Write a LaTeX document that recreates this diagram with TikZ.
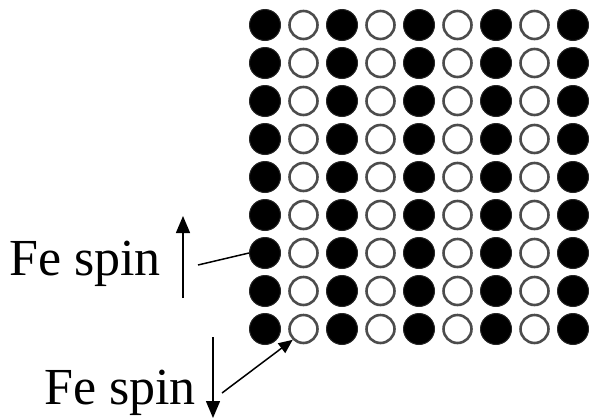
\documentclass[tikz,border=0pt]{standalone}
\usepackage{fontspec}
\setmainfont{Liberation Serif}
\usetikzlibrary{arrows.meta}
\tikzset{
  fullsite/.style={circle,fill=black,draw=black!85,line width=1pt,minimum size=31pt,inner sep=0pt},
  opensite/.style={circle,fill=white,draw=black!70,line width=2.6pt,minimum size=28pt,inner sep=0pt},
  lbl/.style={font=\fontsize{52}{52}\selectfont,inner sep=0pt,anchor=base west},
  spinarrow/.style={line width=1.5pt,-{Triangle[length=17pt,width=14pt]}},
  pointer/.style={line width=1.5pt},
  pointerarrow/.style={line width=1.5pt,-{Triangle[length=14pt,width=12pt]}}
}
\begin{document}
\begin{tikzpicture}[x=1pt,y=-1pt]
\useasboundingbox (0,0) rectangle (591,418);
\foreach \i in {1,...,9}{
  \foreach \j in {1,...,9}{
    \pgfmathtruncatemacro{\myodd}{mod(\j,2)}
    \ifnum\myodd=1
      \node[fullsite] (c-\i-\j) at ({265+(\j-1)*38.5},{25+(\i-1)*38}) {};
    \else
      \node[opensite] (c-\i-\j) at ({265+(\j-1)*38.5},{25+(\i-1)*38}) {};
    \fi
  }
}
\node[lbl] (t1) at (9,275) {Fe spin};
\node[lbl] (t2) at (44,404) {Fe spin};
\coordinate (u1) at (183,298);
\coordinate (u2) at (183,216);
\draw[spinarrow] (u1) -- (u2);
\coordinate (d1) at (213,337);
\coordinate (d2) at (213,418);
\draw[spinarrow] (d1) -- (d2);
\coordinate (p1) at (198,265);
\draw[pointer] (p1) -- (c-7-1.west);
\coordinate (p2) at (222,393);
\draw[pointerarrow] (p2) -- (c-9-2.225);
\end{tikzpicture}
\end{document}
